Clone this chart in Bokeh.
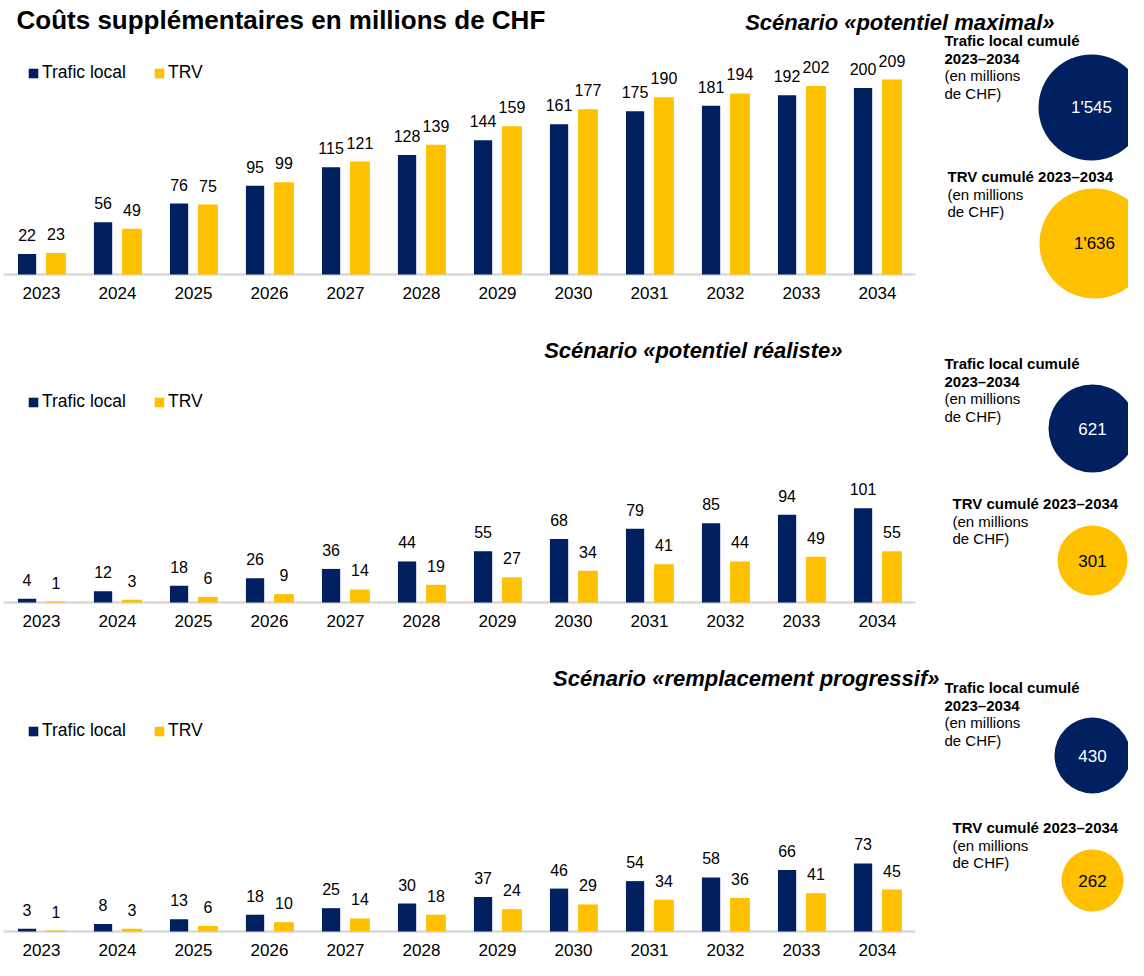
from bokeh.plotting import figure
from bokeh.models import Range1d, ColumnDataSource, Legend, LegendItem
from bokeh.core.properties import value
from bokeh.transform import dodge
from bokeh.embed import file_html
from bokeh.resources import INLINE

# ---------------- data ----------------
years = [2023, 2024, 2025, 2026, 2027, 2028, 2029, 2030, 2031, 2032, 2033, 2034]
year_labels = [str(y) for y in years]
series_names = ["Trafic local", "TRV"]
main_title = "Coûts supplémentaires en millions de CHF"
scenario_titles = ["Scénario «potentiel maximal»",
                   "Scénario «potentiel réaliste»",
                   "Scénario «remplacement progressif»"]

local_max = [22, 56, 76, 95, 115, 128, 144, 161, 175, 181, 192, 200]
trv_max = [23, 49, 75, 99, 121, 139, 159, 177, 190, 194, 202, 209]
local_real = [4, 12, 18, 26, 36, 44, 55, 68, 79, 85, 94, 101]
trv_real = [1, 3, 6, 9, 14, 19, 27, 34, 41, 44, 49, 55]
local_prog = [3, 8, 13, 18, 25, 30, 37, 46, 54, 58, 66, 73]
trv_prog = [1, 3, 6, 10, 14, 18, 24, 29, 34, 36, 41, 45]

total_local = ["1'545", "621", "430"]
total_trv = ["1'636", "301", "262"]
local_caption = ["Trafic local cumulé", "2023–2034", "(en millions", "de CHF)"]
trv_caption = ["TRV cumulé 2023–2034", "(en millions", "de CHF)"]

# ---------------- style / layout ----------------
W, H = 1128, 960
NAVY = "#002060"
GOLD = "#FFC000"
AXIS = "#D9D9D9"
FONT_NAME = "Liberation Sans"
FONT = value(FONT_NAME)
OX = 6                    # horizontal shift from reference picture to canvas
PX_PER_YEAR = 76.0
X0 = 47 - OX              # canvas x of first year centre
SCALE = 0.933             # px per million CHF
OFF = 0.19                # dodge (in years)
LINE = 17.7               # caption line spacing

panels = [
    dict(oy=8, base=282, title=(1060, 30), legend_y=81,
         cap_l=(950, 48), circ_l=(1097, 115, 53), cap_t=(953, 184), circ_t=(1100, 251, 55)),
    dict(oy=12, base=614, title=(848, 362), legend_y=414,
         cap_l=(950, 375), circ_l=(1098, 440, 44), cap_t=(958, 515), circ_t=(1098, 572, 35)),
    dict(oy=16, base=947, title=(945, 694), legend_y=747,
         cap_l=(950, 703), circ_l=(1098, 771, 38), cap_t=(958, 843), circ_t=(1098, 896, 31)),
]
series = [(local_max, trv_max), (local_real, trv_real), (local_prog, trv_prog)]

x_start = years[0] - X0 / PX_PER_YEAR
p = figure(width=W, height=H, output_backend="svg", toolbar_location=None,
           x_range=Range1d(x_start, x_start + W / PX_PER_YEAR),
           y_range=Range1d(H, 0),
           x_axis_location=None, y_axis_location=None,
           min_border=0, min_border_left=0, min_border_right=0,
           min_border_top=0, min_border_bottom=0)
p.outline_line_color = None
p.grid.visible = False
p.background_fill_color = "white"
p.border_fill_color = "white"
p.extra_x_ranges = {"px": Range1d(0, W)}

def px(x):
    return x - OX

# main title
p.text(x=[px(22)], y=[27 - panels[0]["oy"]], text=[main_title], x_range_name="px",
       text_font=FONT, text_font_size="26px", text_font_style="bold",
       text_color="black", text_align="left", text_baseline="middle")

for k, (pan, (loc, trv)) in enumerate(zip(panels, series)):
    oy = pan["oy"]
    B = pan["base"] - oy
    name = f"v{k}"
    p.extra_y_ranges[name] = Range1d((B - H) / SCALE, B / SCALE)

    src = ColumnDataSource(dict(year=years, label=year_labels, loc=loc, trv=trv,
                                loc_t=[str(v) for v in loc], trv_t=[str(v) for v in trv],
                                zero=[0] * len(years)))
    # baseline
    p.segment(x0=[years[0] - 0.5], x1=[years[-1] + 0.5], y0=[0], y1=[0],
              y_range_name=name, line_color=AXIS, line_width=2.5)
    r_l = p.vbar(x=dodge("year", -OFF, range=p.x_range), top="loc", bottom=0, width=0.24,
                 source=src, y_range_name=name, fill_color=NAVY, line_color=None)
    r_t = p.vbar(x=dodge("year", OFF, range=p.x_range), top="trv", bottom=0, width=0.26,
                 source=src, y_range_name=name, fill_color=GOLD, line_color=None)
    p.text(x=dodge("year", -OFF, range=p.x_range), y="loc", text="loc_t", source=src,
           y_range_name=name, y_offset=-19, text_font=FONT, text_font_size="16px",
           text_color="black", text_align="center", text_baseline="middle")
    p.text(x=dodge("year", OFF, range=p.x_range), y="trv", text="trv_t", source=src,
           y_range_name=name, y_offset=-19, text_font=FONT, text_font_size="16px",
           text_color="black", text_align="center", text_baseline="middle")
    # year labels
    p.text(x="year", y="zero", text="label", source=src, y_range_name=name, y_offset=18,
           text_font=FONT, text_font_size="17px", text_color="black",
           text_align="center", text_baseline="middle")

    # scenario title
    tx, ty = pan["title"]
    p.text(x=[px(tx)], y=[ty - oy], text=[scenario_titles[k]], x_range_name="px",
           text_font=FONT, text_font_size="22px", text_font_style="bold italic",
           text_color="black", text_align="right", text_baseline="middle")

    # legend
    leg = Legend(items=[LegendItem(label=series_names[0], renderers=[r_l]),
                        LegendItem(label=series_names[1], renderers=[r_t])],
                 location=(px(34) - 1, H - (pan["legend_y"] - oy) - 10),
                 orientation="horizontal", glyph_width=12, glyph_height=12,
                 label_height=20, label_standoff=3, spacing=27, padding=0, margin=0,
                 border_line_color=None, background_fill_alpha=0,
                 label_text_font=FONT_NAME, label_text_font_size="17.5px",
                 label_text_color="black")
    p.add_layout(leg)

    # captions
    cx, cy = pan["cap_l"]
    for i, line in enumerate(local_caption):
        p.text(x=[px(cx)], y=[cy - oy + i * LINE], text=[line], x_range_name="px",
               text_font=FONT, text_font_size="15px",
               text_font_style="bold" if i < 2 else "normal",
               text_color="black", text_align="left", text_baseline="middle")
    cx, cy = pan["cap_t"]
    for i, line in enumerate(trv_caption):
        p.text(x=[px(cx)], y=[cy - oy + i * LINE], text=[line], x_range_name="px",
               text_font=FONT, text_font_size="15px",
               text_font_style="bold" if i < 1 else "normal",
               text_color="black", text_align="left", text_baseline="middle")

    # total circles
    ccx, ccy, rr = pan["circ_l"]
    p.circle(x=[px(ccx)], y=[ccy - oy], radius=[rr], x_range_name="px",
             fill_color=NAVY, line_color=None)
    p.text(x=[px(ccx)], y=[ccy - oy], text=[total_local[k]], x_range_name="px",
           text_font=FONT, text_font_size="17px", text_color="white",
           text_align="center", text_baseline="middle")
    ccx, ccy, rr = pan["circ_t"]
    p.circle(x=[px(ccx)], y=[ccy - oy], radius=[rr], x_range_name="px",
             fill_color=GOLD, line_color=None)
    p.text(x=[px(ccx)], y=[ccy - oy], text=[total_trv[k]], x_range_name="px",
           text_font=FONT, text_font_size="17px", text_color="black",
           text_align="center", text_baseline="middle")

open("out.html", "w").write(file_html(p, INLINE))
